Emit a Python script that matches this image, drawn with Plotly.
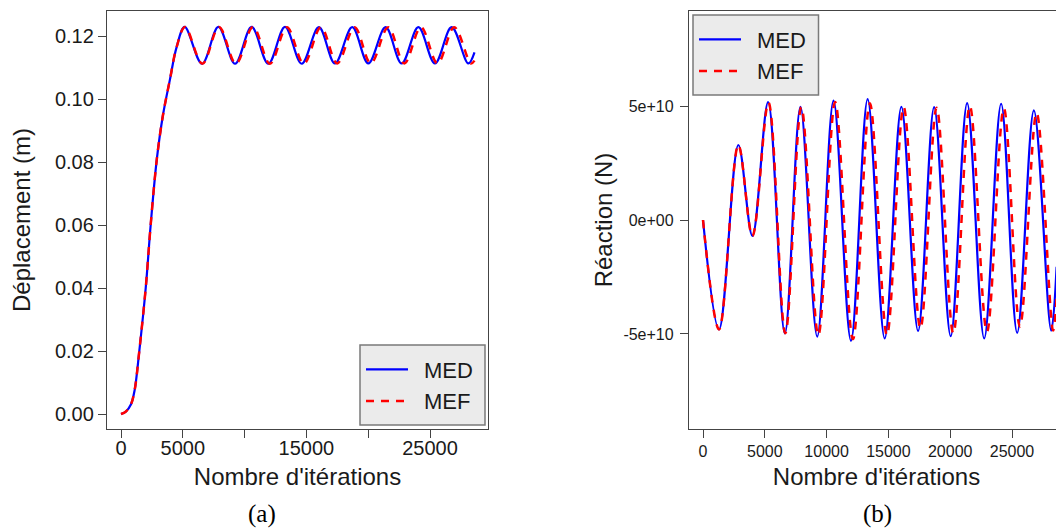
import plotly.graph_objects as go

# ---------------- data ----------------
# (a) displacement (m) vs iterations
disp_iter_med = [0, 400, 800, 1100, 1480, 2000, 2400, 2900, 3400, 3950, 4500, 5150,
                 6560, 7880, 9230, 10570, 11920, 13270, 14620, 16010, 17310, 18710, 20010,
                 21410, 22710, 24060, 25400, 26750, 28100, 28600]
disp_med = [0.0, 0.0008, 0.003, 0.0075, 0.020, 0.040, 0.060, 0.081, 0.095, 0.106, 0.1165, 0.1229,
            0.1112, 0.1229, 0.1112, 0.1229, 0.1112, 0.1229, 0.1112, 0.1228, 0.1113, 0.1228, 0.1113,
            0.1228, 0.1113, 0.1228, 0.1113, 0.1228, 0.1113, 0.1148]

disp_iter_mef = [0, 400, 800, 1100, 1480, 2000, 2400, 2900, 3400, 3950, 4500, 5180,
                 6590, 7930, 9300, 10680, 12050, 13420, 14790, 16180, 17490, 18900, 20210,
                 21620, 22920, 24270, 25610, 26960, 28310, 28600]
disp_mef = [0.0, 0.0008, 0.003, 0.0075, 0.020, 0.040, 0.060, 0.081, 0.095, 0.106, 0.1165, 0.1229,
            0.1112, 0.1229, 0.1112, 0.1229, 0.1112, 0.1228, 0.1112, 0.1228, 0.1113, 0.1228, 0.1113,
            0.1228, 0.1113, 0.1228, 0.1113, 0.1228, 0.1113, 0.1122]

# (b) reaction (N) vs iterations
reac_iter_med = [0, 1297, 2860, 3995, 5267, 6620, 7885, 9240, 10560, 11970, 13320, 14700,
                 16050, 17400, 18700, 20040, 21370, 22750, 24120, 25420, 26770, 28170, 28610]
reac_med = [0.0, -4.80e10, 3.29e10, -0.70e10, 5.17e10, -4.98e10, 4.97e10, -5.12e10, 5.24e10, -5.30e10,
            5.30e10, -5.20e10, 4.97e10, -4.87e10, 4.95e10, -5.10e10, 5.13e10, -5.20e10, 5.10e10,
            -4.95e10, 4.81e10, -4.85e10, -2.05e10]

reac_iter_mef = [0, 1297, 2860, 3995, 5297, 6660, 7955, 9330, 10690, 12130, 13500, 14880,
                 16230, 17590, 18900, 20250, 21590, 22970, 24340, 25640, 26990, 28320, 28610]
reac_mef = [0.0, -4.80e10, 3.29e10, -0.70e10, 5.15e10, -4.97e10, 4.95e10, -5.05e10, 5.18e10, -5.23e10,
            5.12e10, -5.05e10, 4.95e10, -4.75e10, 4.93e10, -4.97e10, 5.00e10, -4.90e10, 4.90e10,
            -4.67e10, 4.70e10, -4.85e10, -3.40e10]

x_ticks = [0, 5000, 10000, 15000, 20000, 25000]
x_ticktext_a = ["0", "5000", "", "15000", "", "25000"]
x_ticktext_b = ["0", "5000", "10000", "15000", "20000", "25000"]
y_ticks_a = [0.00, 0.02, 0.04, 0.06, 0.08, 0.10, 0.12]
y_ticktext_a = ["0.00", "0.02", "0.04", "0.06", "0.08", "0.10", "0.12"]
y_ticks_b = [-5e10, 0, 5e10]
y_ticktext_b = ["-5e+10", "0e+00", "5e+10"]

series_names = ["MED", "MEF"]
BLUE = "#0000FF"
RED = "#FF0000"
SANS = "Liberation Sans, Arial, Helvetica, sans-serif"
SERIF = "Liberation Serif, Times New Roman, serif"
AX = "#444444"
TXT = "#1a1a1a"

# the page body has an 8px margin: the figure is placed at (8, 8) in the window
OFF = 8
W, H = 1064 - OFF, 531 - OFF


def px(x):
    return (x - OFF) / W


def py(y):
    return 1 - (y - OFF) / H


fig = go.Figure()

# (a)
fig.add_trace(go.Scatter(x=disp_iter_med, y=disp_med, mode="lines", name="\u2002" + series_names[0],
                         line=dict(color=BLUE, width=2.2, shape="spline"),
                         xaxis="x", yaxis="y", legend="legend"))
fig.add_trace(go.Scatter(x=disp_iter_mef, y=disp_mef, mode="lines", name="\u2002" + series_names[1],
                         line=dict(color=RED, width=2.5, dash="8px,7px", shape="spline"),
                         xaxis="x", yaxis="y", legend="legend"))
# (b)
fig.add_trace(go.Scatter(x=reac_iter_med, y=reac_med, mode="lines", name="\u2002" + series_names[0],
                         line=dict(color=BLUE, width=2.2, shape="spline"),
                         xaxis="x2", yaxis="y2", legend="legend2"))
fig.add_trace(go.Scatter(x=reac_iter_mef, y=reac_mef, mode="lines", name="\u2002" + series_names[1],
                         line=dict(color=RED, width=2.5, dash="8px,7px", shape="spline"),
                         xaxis="x2", yaxis="y2", legend="legend2"))

ydom = [py(429), py(11)]
common_axis = dict(showline=True, linecolor=AX, linewidth=1.3, ticks="outside", ticklen=8,
                   tickwidth=1.2, tickcolor=AX, showgrid=False, zeroline=False,
                   tickmode="array")

fig.update_layout(
    width=W, height=H, autosize=False,
    margin=dict(l=0, r=0, t=0, b=0),
    paper_bgcolor="white", plot_bgcolor="white",
    font=dict(family=SANS, color=TXT, size=20),
    xaxis=dict(domain=[px(107), px(488)], range=[-1133, 29693], mirror=True,
               tickvals=x_ticks, ticktext=x_ticktext_a, tickfont=dict(size=20),
               ticklabelstandoff=-7,
               title=dict(text="Nombre d'itérations", font=dict(size=24), standoff=10),
               anchor="y", **common_axis),
    yaxis=dict(domain=ydom, range=[-0.00476, 0.12795], mirror=True,
               tickvals=y_ticks_a, ticktext=y_ticktext_a, tickfont=dict(size=20),
               title=dict(text="Déplacement (m)", font=dict(size=24), standoff=17),
               anchor="x", **common_axis),
    xaxis2=dict(domain=[px(689), 1.0], range=[-1133, 29207], mirror=True,
                tickvals=x_ticks, ticktext=x_ticktext_b, tickfont=dict(size=16),
                title=dict(text="Nombre d'itérations", font=dict(size=24), standoff=8),
                anchor="y2", **common_axis),
    yaxis2=dict(domain=ydom, range=[-9.17e10, 9.17e10], mirror=False,
                tickvals=y_ticks_b, ticktext=y_ticktext_b, tickfont=dict(size=16),
                ticklabelstandoff=3,
                title=dict(text="Réaction (N)", font=dict(size=24), standoff=3),
                anchor="x2", **common_axis),
    legend=dict(x=px(361), xanchor="left", y=py(348.5), yanchor="top",
                bgcolor="rgba(0,0,0,0)", borderwidth=0, itemwidth=42,
                font=dict(size=22, family=SANS, color=TXT), tracegroupgap=0),
    legend2=dict(x=px(694), xanchor="left", y=py(18.5), yanchor="top",
                 bgcolor="rgba(0,0,0,0)", borderwidth=0, itemwidth=42,
                 font=dict(size=22, family=SANS, color=TXT), tracegroupgap=0),
    showlegend=True,
)

# legend frames (R-style grey boxes)
for (x0, y0, x1, y1) in [(360, 345, 485, 425), (693, 15, 818.5, 95)]:
    fig.add_shape(type="rect", xref="paper", yref="paper",
                  x0=px(x0), x1=px(x1), y0=py(y1), y1=py(y0),
                  fillcolor="#EBEBEB", line=dict(color="#7a7a7a", width=1.5), layer="above")

# panel captions
fig.add_annotation(text="(a)", xref="paper", yref="paper", x=px(262), y=py(514),
                   showarrow=False, font=dict(family=SERIF, size=25, color="black"),
                   xanchor="center", yanchor="middle", borderpad=0)
fig.add_annotation(text="(b)", xref="paper", yref="paper", x=px(877), y=py(514),
                   showarrow=False, font=dict(family=SERIF, size=25, color="black"),
                   xanchor="center", yanchor="middle", borderpad=0)

fig.write_html("out.html")
